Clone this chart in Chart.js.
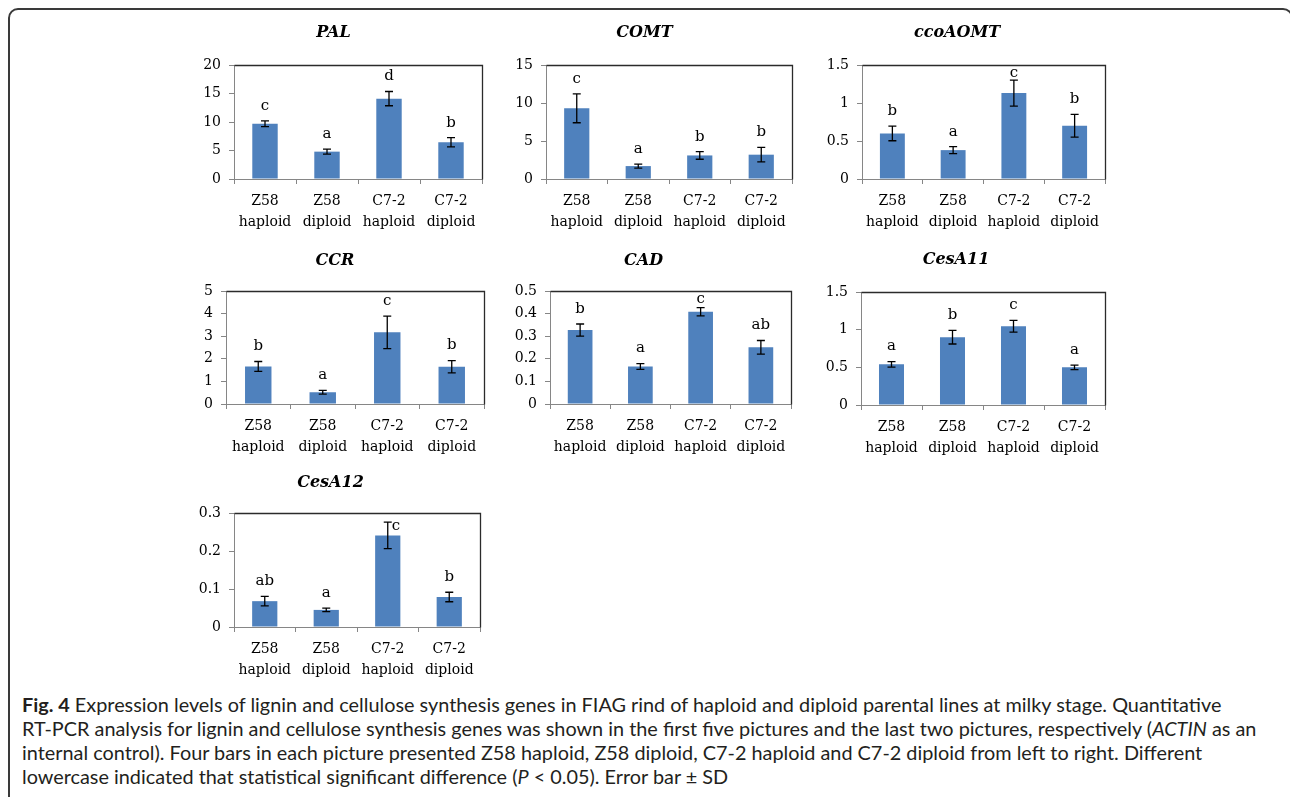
<!DOCTYPE html>
<html>
<head>
<meta charset="utf-8">
<script src="https://cdn.jsdelivr.net/npm/chart.js@4.4.1/dist/chart.umd.min.js"></script>
<style>
  html, body { margin: 0; padding: 0; background: #fff; }
  body { width: 1290px; height: 797px; position: relative; overflow: hidden; }
  #frame { position: absolute; left: 8px; top: 8px; width: 1285px; height: 900px;
           border: 2px solid #3a3a3a; border-radius: 10px; box-sizing: border-box; }
  .panel { position: absolute; }
  #caption { position: absolute; left: 22px; top: 692px; font-family: Lato, "Open Sans", sans-serif;
             font-size: 16px; line-height: 24px; color: #231f20; white-space: nowrap; }
  #caption div { display: block; }
  #caption span.line { display: inline-block; }
</style>
</head>
<body>
<div id="frame"></div>
<div id="caption">
  <div><span class="line"><b>Fig. 4</b> Expression levels of lignin and cellulose synthesis genes in FIAG rind of haploid and diploid parental lines at milky stage. Quantitative</span></div>
  <div><span class="line">RT-PCR analysis for lignin and cellulose synthesis genes was shown in the first five pictures and the last two pictures, respectively (<i>ACTIN</i> as an</span></div>
  <div><span class="line">internal control). Four bars in each picture presented Z58 haploid, Z58 diploid, C7-2 haploid and C7-2 diploid from left to right. Different</span></div>
  <div><span class="line">lowercase indicated that statistical significant difference (<i>P</i> &lt; 0.05). Error bar ± SD</span></div>
</div>
<script>
// Sample groups (x axis)
const categories = [['Z58', 'haploid'], ['Z58', 'diploid'], ['C7-2', 'haploid'], ['C7-2', 'diploid']];

// Relative expression: means, standard deviations, significance letters, y axis [min, max, step]
const palMean = [9.7, 4.8, 14.1, 6.45];
const palSd = [0.5, 0.45, 1.25, 0.8];
const palLetters = ['c', 'a', 'd', 'b'];
const palAxis = [0, 20, 5];

const comtMean = [9.3, 1.7, 3.1, 3.2];
const comtSd = [1.9, 0.26, 0.5, 0.95];
const comtLetters = ['c', 'a', 'b', 'b'];
const comtAxis = [0, 15, 5];

const ccoaomtMean = [0.6, 0.38, 1.13, 0.7];
const ccoaomtSd = [0.097, 0.045, 0.17, 0.15];
const ccoaomtLetters = ['b', 'a', 'c', 'b'];
const ccoaomtAxis = [0, 1.5, 0.5];

const ccrMean = [1.66, 0.52, 3.17, 1.65];
const ccrSd = [0.22, 0.08, 0.72, 0.27];
const ccrLetters = ['b', 'a', 'c', 'b'];
const ccrAxis = [0, 5, 1];

const cadMean = [0.327, 0.166, 0.408, 0.251];
const cadSd = [0.027, 0.013, 0.018, 0.03];
const cadLetters = ['b', 'a', 'c', 'ab'];
const cadAxis = [0, 0.5, 0.1];

const cesa11Mean = [0.54, 0.9, 1.045, 0.5];
const cesa11Sd = [0.036, 0.09, 0.078, 0.03];
const cesa11Letters = ['a', 'b', 'c', 'a'];
const cesa11Axis = [0, 1.5, 0.5];

const cesa12Mean = [0.068, 0.045, 0.241, 0.079];
const cesa12Sd = [0.0125, 0.0045, 0.035, 0.0125];
const cesa12Letters = ['ab', 'a', 'c', 'b'];
const cesa12Axis = [0, 0.3, 0.1];

// Panel placement on the page: plot box edges and title centre
const panels = [
  { title: 'PAL',     mean: palMean,     sd: palSd,     letters: palLetters,     axis: palAxis,     L: 234, R: 482,  T: 65,  B: 179, tcx: 345, tcy: 33 },
  { title: 'COMT',    mean: comtMean,    sd: comtSd,    letters: comtLetters,    axis: comtAxis,    L: 546, R: 792,  T: 65,  B: 179, tcx: 657, tcy: 33 },
  { title: 'ccoAOMT', mean: ccoaomtMean, sd: ccoaomtSd, letters: ccoaomtLetters, axis: ccoaomtAxis, L: 862, R: 1105, T: 65,  B: 179, tcx: 969, tcy: 33 },
  { title: 'CCR',     mean: ccrMean,     sd: ccrSd,     letters: ccrLetters,     axis: ccrAxis,     L: 226, R: 484,  T: 291, B: 404, tcx: 346, tcy: 261 },
  { title: 'CAD',     mean: cadMean,     sd: cadSd,     letters: cadLetters,     axis: cadAxis,     L: 550, R: 791,  T: 291, B: 404, tcx: 656, tcy: 261 },
  { title: 'CesA11',  mean: cesa11Mean,  sd: cesa11Sd,  letters: cesa11Letters,  axis: cesa11Axis,  L: 861, R: 1105, T: 292, B: 405, tcx: 967, tcy: 260 },
  { title: 'CesA12',  mean: cesa12Mean,  sd: cesa12Sd,  letters: cesa12Letters,  axis: cesa12Axis,  L: 234, R: 480,  T: 513, B: 627, tcx: 341, tcy: 483 }
];

const SERIF = 'DejaVu Serif';

// Error bars, significance letters and the plot-area frame (top and right edges)
const marksPlugin = {
  id: 'marks',
  afterDatasetsDraw(chart, args, opts) {
    const ctx = chart.ctx;
    const area = chart.chartArea;
    const y = chart.scales.y;
    const meta = chart.getDatasetMeta(0);
    const vals = chart.data.datasets[0].data;

    ctx.save();
    // frame
    ctx.strokeStyle = '#2b2b2b';
    ctx.lineWidth = 1.3;
    ctx.beginPath();
    ctx.moveTo(Math.round(area.left) + 0.5, Math.round(area.top) + 0.5);
    ctx.lineTo(Math.round(area.right) + 0.5, Math.round(area.top) + 0.5);
    ctx.lineTo(Math.round(area.right) + 0.5, Math.round(area.bottom) + 0.5);
    ctx.stroke();

    meta.data.forEach((bar, i) => {
      const v = vals[i], s = opts.sd[i];
      const yt = y.getPixelForValue(v + s);
      const yb = y.getPixelForValue(v - s);
      const x = bar.x;
      ctx.strokeStyle = '#000';
      ctx.lineWidth = 1.3;
      ctx.beginPath();
      ctx.moveTo(x, yt); ctx.lineTo(x, yb);
      ctx.moveTo(x - 4, yt); ctx.lineTo(x + 4, yt);
      ctx.moveTo(x - 4, yb); ctx.lineTo(x + 4, yb);
      ctx.stroke();

      ctx.fillStyle = '#000';
      ctx.font = '15px "' + SERIF + '"';
      ctx.textBaseline = 'middle';
      if (yt - area.top < 12) {
        ctx.textAlign = 'left';
        ctx.fillText(opts.letters[i], x + 4, yt + 4);
      } else {
        ctx.textAlign = 'center';
        const ly = Math.max(yt - 15, area.top + 8);
        ctx.fillText(opts.letters[i], x, ly);
      }
    });
    ctx.restore();
  }
};

const fmt = v => String(parseFloat(Number(v).toFixed(3)));

function makePanel(p) {
  const halfW = 160, topSpace = 50, bottomSpace = 62;
  const left = p.tcx - halfW;
  const width = halfW * 2;
  const height = topSpace + (p.B - p.T) + bottomSpace;
  const div = document.createElement('div');
  div.className = 'panel';
  div.style.left = left + 'px';
  div.style.top = (p.T - topSpace) + 'px';
  div.style.width = width + 'px';
  div.style.height = height + 'px';
  const cv = document.createElement('canvas');
  div.appendChild(cv);
  document.body.appendChild(div);

  const yW = p.L - left;
  const rightPad = left + width - p.R;
  const titleCenter = p.tcy - (p.T - topSpace);
  const titleLH = 19;

  new Chart(cv, {
    type: 'bar',
    data: {
      labels: categories,
      datasets: [{
        data: p.mean,
        backgroundColor: '#4F81BD',
        borderWidth: 0,
        barPercentage: 0.41,
        categoryPercentage: 1
      }]
    },
    options: {
      responsive: true,
      maintainAspectRatio: false,
      animation: false,
      events: [],
      layout: { padding: { left: 0, right: rightPad, top: 0, bottom: 0 } },
      plugins: {
        legend: { display: false },
        tooltip: { enabled: false },
        title: {
          display: true,
          text: p.title,
          color: '#000',
          font: { family: SERIF, size: 16, weight: 'bold', style: 'italic', lineHeight: titleLH / 16 },
          padding: { top: titleCenter - titleLH / 2, bottom: topSpace - titleCenter - titleLH / 2 }
        },
        marks: { sd: p.sd, letters: p.letters }
      },
      scales: {
        x: {
          grid: { display: true, drawOnChartArea: false, offset: true, tickLength: 5, color: '#868686', lineWidth: 1 },
          border: { color: '#868686', width: 1 },
          ticks: { color: '#000', font: { family: SERIF, size: 14, lineHeight: 1.5 }, padding: 7, maxRotation: 0, autoSkip: false },
          afterFit(s) { s.height = bottomSpace; }
        },
        y: {
          min: p.axis[0],
          max: p.axis[1],
          grid: { display: true, drawOnChartArea: false, tickLength: 5, color: '#868686', lineWidth: 1 },
          border: { color: '#868686', width: 1 },
          ticks: { stepSize: p.axis[2], color: '#000', font: { family: SERIF, size: 14 }, padding: 8, callback: v => fmt(v) },
          afterFit(s) { s.width = yW; }
        }
      }
    },
    plugins: [marksPlugin]
  });
}

panels.forEach(makePanel);

// Fit caption lines to the text block width
(function fitCaption() {
  const cap = document.getElementById('caption');
  const first = cap.querySelector('span.line');
  const w = first.getBoundingClientRect().width;
  if (w > 0) {
    const size = 16 * 1200 / w;
    cap.style.fontSize = size.toFixed(2) + 'px';
  }
})();
</script>
</body>
</html>
